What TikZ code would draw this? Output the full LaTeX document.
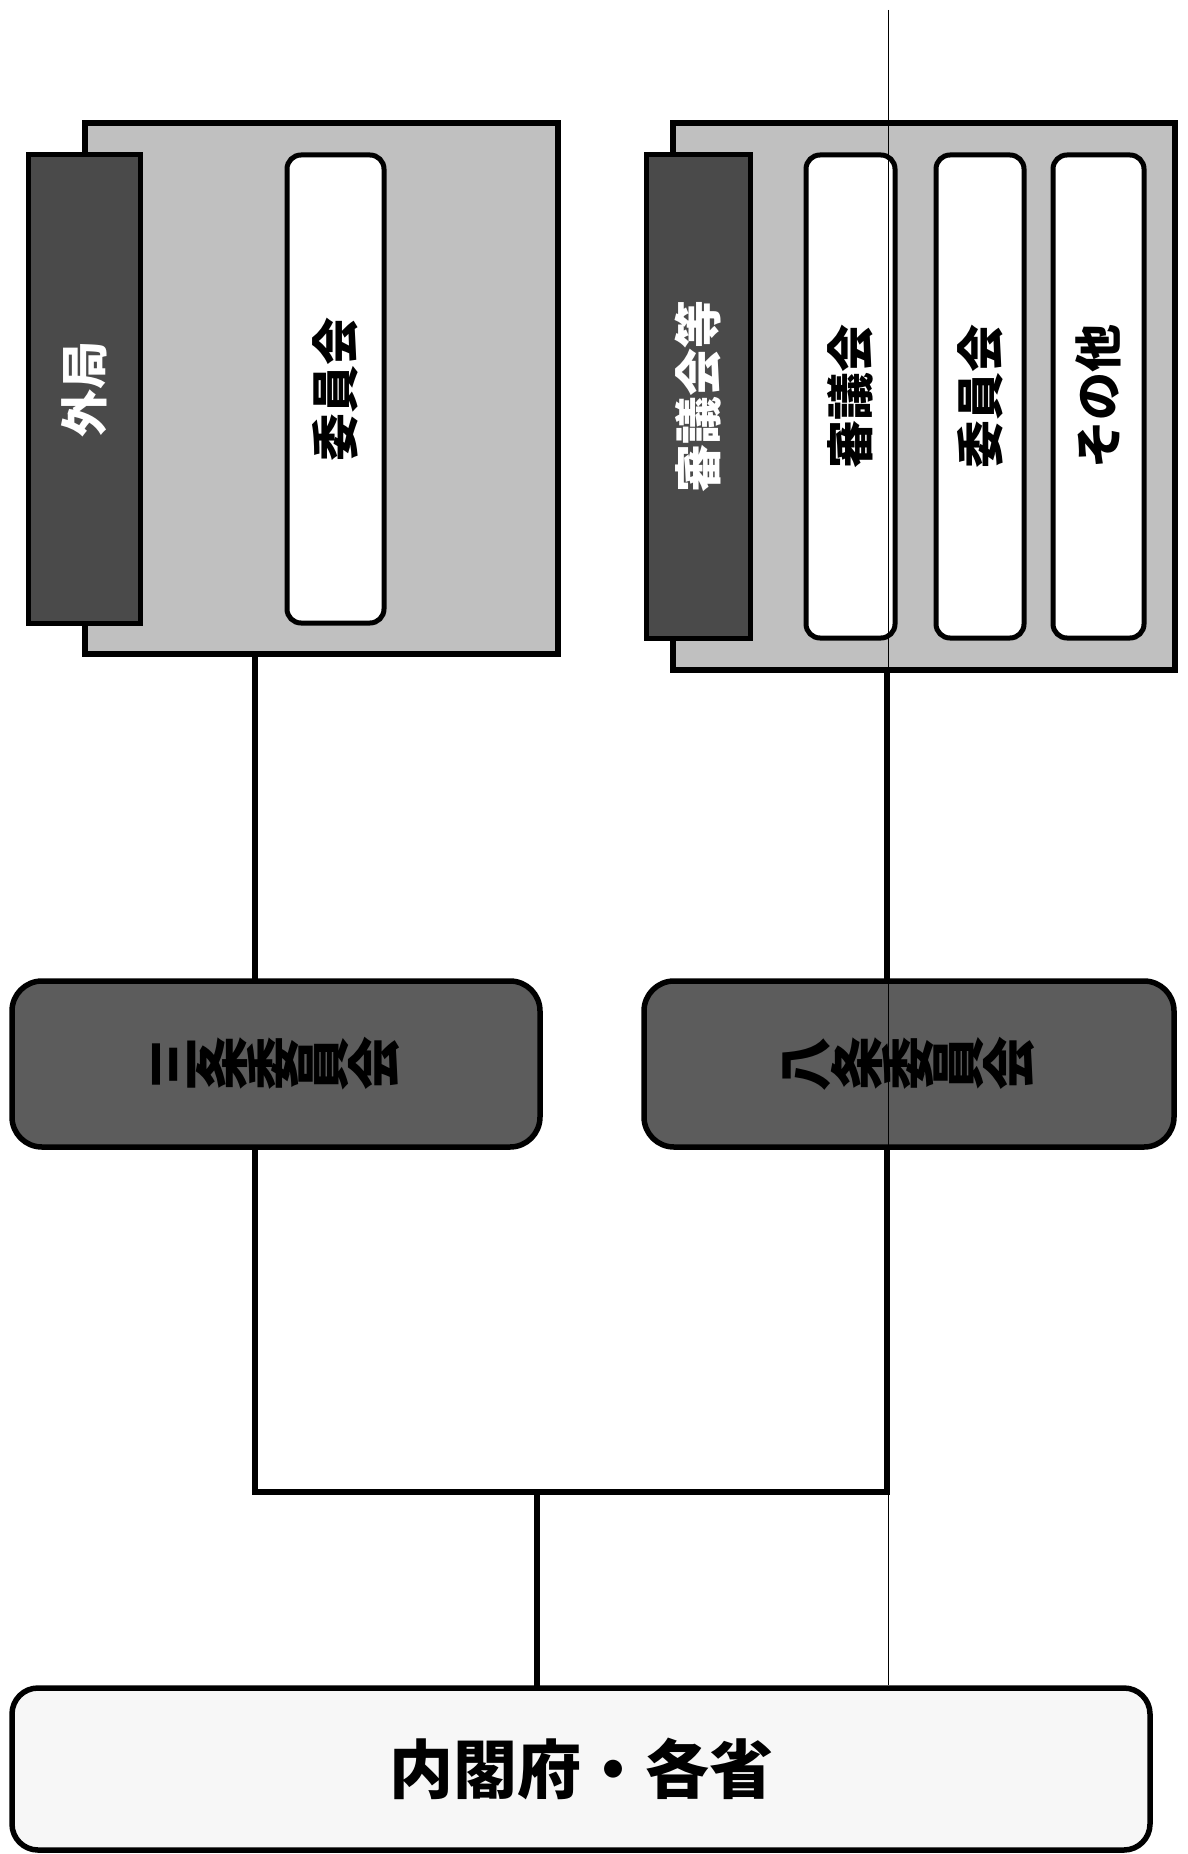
\documentclass[tikz,border=0pt]{standalone}
\usepackage{fontspec}
\usepackage{graphicx}
\newfontfamily\cjk{Noto Sans CJK JP}
\newcommand\rc[1]{\rotatebox[origin=c]{90}{#1}}
\definecolor{grplight}{HTML}{C0C0C0}
\definecolor{grpdark}{HTML}{4A4A4A}
\definecolor{middark}{HTML}{5C5C5C}
\definecolor{botfill}{HTML}{F7F7F7}
\tikzset{
  grpbox/.style={draw=black, line width=5.5pt, fill=grplight, inner sep=0pt},
  darkbox/.style={draw=black, line width=5pt, fill=grpdark, inner sep=0pt, rotate=90,
     text=white, font=\cjk\bfseries\fontsize{48}{48}\selectfont},
  whitebox/.style={draw=black, line width=5pt, fill=white, rounded corners=14pt, inner sep=0pt, rotate=90,
     font=\cjk\bfseries\fontsize{48}{48}\selectfont},
  midbox/.style={draw=black, line width=5.5pt, fill=middark, rounded corners=30pt, inner sep=0pt,
     font=\cjk\bfseries\fontsize{54}{54}\selectfont},
  botbox/.style={draw=black, line width=5.5pt, fill=botfill, rounded corners=26pt, inner sep=0pt,
     font=\cjk\bfseries\fontsize{64}{64}\selectfont},
  conn/.style={line width=5.5pt, line cap=rect},
  thin/.style={line width=1pt}
}
\begin{document}
\begin{tikzpicture}[x=1pt,y=-1pt]
\useasboundingbox (0,0) rectangle (1187,1854);
\fill[white] (0,0) rectangle (1187,1854);
% left group
\node[grpbox, minimum width=473pt, minimum height=531pt] (gL) at (321.5,388.5) {};
\node[darkbox, minimum width=468pt, minimum height=112pt] (gaikyoku) at (84,389) {外局};
\node[whitebox, minimum width=468pt, minimum height=97pt] (iinL) at (335.5,389) {委員会};
% right group
\node[grpbox, minimum width=502pt, minimum height=547pt] (gR) at (924,396.5) {};
\node[darkbox, minimum width=483pt, minimum height=104pt] (shingikaitou) at (698,396.5) {審議会等};
\node[whitebox, minimum width=483pt, minimum height=89pt] (shingikai) at (850.5,396.5) {審議会};
\node[whitebox, minimum width=483pt, minimum height=88pt] (iinR) at (980,396.5) {委員会};
\node[whitebox, minimum width=483pt, minimum height=91pt] (sonota) at (1098.5,396.5) {その他};
% middle boxes
\node[midbox, minimum width=528pt, minimum height=166pt] (sanjo) at (276,1064) {\rc{三}\rc{条}\rc{委}\rc{員}\rc{会}};
\node[midbox, minimum width=530pt, minimum height=166pt] (hachijo) at (909,1064) {\rc{八}\rc{条}\rc{委}\rc{員}\rc{会}};
% bottom box
\node[botbox, minimum width=1138pt, minimum height=162pt] (naikaku) at (581,1769) {内閣府・各省};
% connector coordinates
\coordinate (jL) at (255,1492);
\coordinate (jR) at (887,1492);
\coordinate (jC) at (537,1492);
\coordinate (topend) at (888,10);
% connectors
\draw[conn] (gL.south -| jL) -- (sanjo.north -| jL);
\draw[conn] (gR.south -| jR) -- (hachijo.north -| jR);
\draw[conn] (sanjo.south -| jL) -- (jL) -- (jR) -- (hachijo.south -| jR);
\draw[conn] (jC) -- (naikaku.north -| jC);
\draw[thin] (topend) -- (naikaku.north -| topend);
\end{tikzpicture}
\end{document}
